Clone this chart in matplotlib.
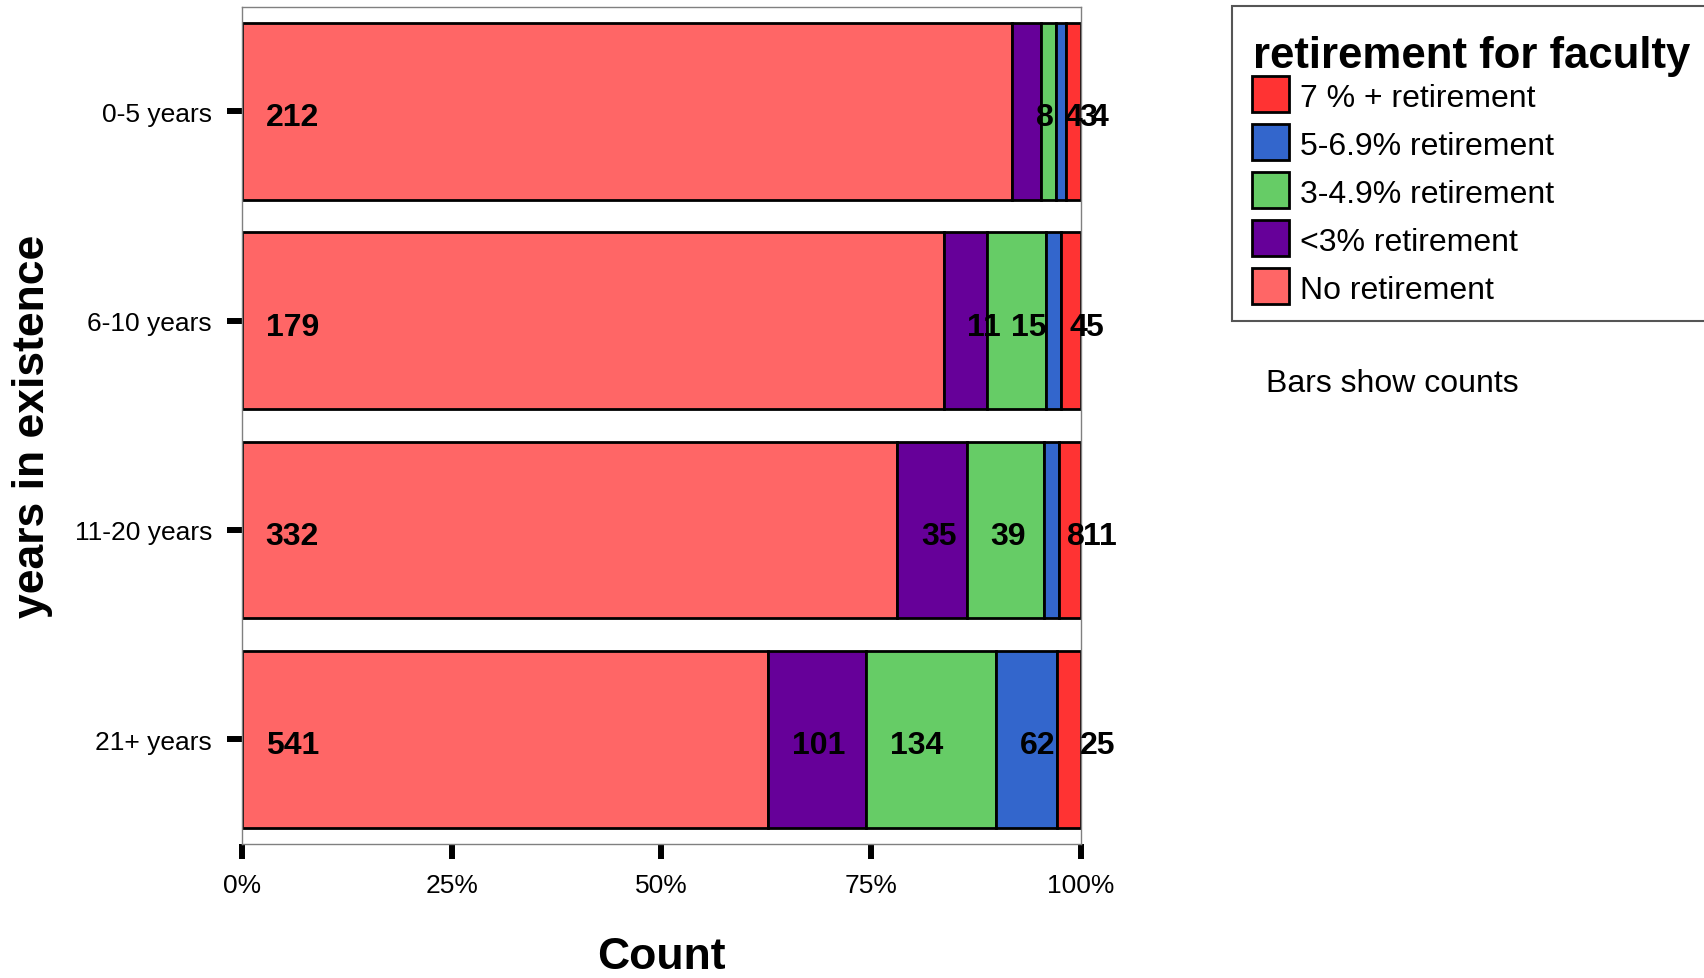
import matplotlib
matplotlib.use("Agg")
import matplotlib.pyplot as plt
from matplotlib.patches import Rectangle
import numpy as np

plt.rcParams['font.family'] = ['Liberation Sans', 'DejaVu Sans']

categories = ['0-5 years', '6-10 years', '11-20 years', '21+ years']
series_names = ['No retirement', '<3% retirement', '3-4.9% retirement',
                '5-6.9% retirement', '7 % + retirement']
no_retirement = [212, 179, 332, 541]
lt3_retirement = [8, 11, 35, 101]
r3_49_retirement = [4, 15, 39, 134]
r5_69_retirement = [3, 4, 8, 62]
r7_plus_retirement = [4, 5, 11, 25]
x_tick_labels = ['0%', '25%', '50%', '75%', '100%']
colors = ['#FF6666', '#660099', '#66CC66', '#3366CC', '#FF3333']

series = [no_retirement, lt3_retirement, r3_49_retirement,
          r5_69_retirement, r7_plus_retirement]
counts = np.array(series, dtype=float)
totals = counts.sum(axis=0)
props = counts / totals

W, H = 1704, 979
fig = plt.figure(figsize=(W / 100, H / 100), dpi=100)
ax = fig.add_axes([0.1420, 0.1369, 0.4924, 0.8553])


def fx(x):
    return x / W


def fy(y):
    return 1 - y / H


ypos = np.arange(len(categories))
left = np.zeros(len(categories))
for k in range(len(series)):
    ax.barh(ypos, props[k], left=left, height=0.845, color=colors[k],
            edgecolor='black', linewidth=2.0, zorder=2)
    for i in range(len(categories)):
        ax.annotate(str(int(counts[k, i])), xy=(left[i], ypos[i]),
                    xytext=(17, -10), textcoords='offset points',
                    ha='left', va='baseline', fontsize=23,
                    fontweight='bold', color='black', annotation_clip=False,
                    zorder=5)
    left = left + props[k]

ax.set_xlim(0, 1)
ax.set_ylim(3.5, -0.5)
ax.set_xticks([0, 0.25, 0.5, 0.75, 1.0])
ax.set_xticklabels(x_tick_labels)
ax.set_yticks(ypos)
ax.set_yticklabels(categories)
ax.tick_params(axis='both', direction='out', length=11, width=4.3,
               color='black', labelsize=19)
ax.tick_params(axis='x', pad=10)
ax.tick_params(axis='y', pad=10.5)
for sp in ax.spines.values():
    sp.set_color('#808080')
    sp.set_linewidth(1.0)

ax.set_xlabel('Count', fontsize=32, fontweight='bold', labelpad=28)
ax.set_ylabel('years in existence', fontsize=32, fontweight='bold', labelpad=16)

# legend (drawn in figure coordinates)
fig.patches.append(Rectangle((fx(1232), fy(322)), fx(1712) - fx(1232),
                             fy(6.5) - fy(322), transform=fig.transFigure,
                             facecolor='white', edgecolor='#555555',
                             linewidth=1.5, zorder=1))
fig.text(fx(1253), fy(68), 'retirement for faculty', fontsize=31.5,
         fontweight='bold', ha='left', va='baseline')
legend_order = list(range(len(series)))[::-1]
for j, k in enumerate(legend_order):
    top = 77 + 48 * j
    fig.patches.append(Rectangle((fx(1252), fy(top + 36)), fx(37), 36 / H,
                                 transform=fig.transFigure,
                                 facecolor=colors[k], edgecolor='black',
                                 linewidth=2.0, zorder=2))
    fig.text(fx(1300), fy(top + 18 + 12), series_names[k], fontsize=23,
             ha='left', va='baseline')

fig.text(fx(1266), fy(384), 'Bars show counts', fontsize=23,
         ha='left', va='center')

fig.savefig('out.png', dpi=100)
